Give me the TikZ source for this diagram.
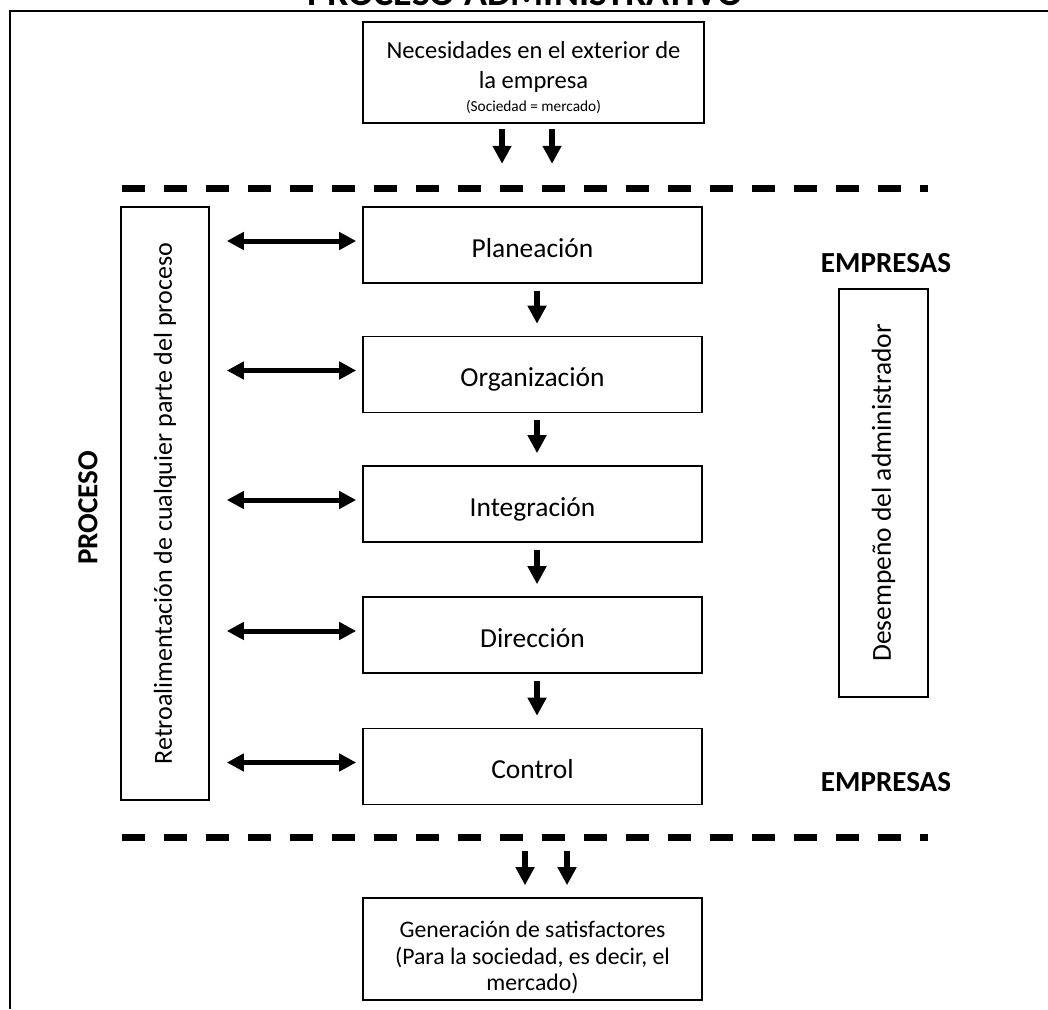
\documentclass[tikz,border=0pt]{standalone}
\usepackage{fontspec}
\setmainfont{Carlito}
\usetikzlibrary{arrows.meta}
\begin{document}
\begin{tikzpicture}[x=0.75pt,y=-0.75pt,
  frame/.style={line width=2pt},
  box/.style={draw, line width=1.2pt, inner sep=0pt, align=center},
  stepbox/.style={box, minimum width=254.25pt, minimum height=57pt,
    text height=18.5pt, text depth=0pt,
    font=\fontsize{20.6}{24}\selectfont},
  down/.style={line width=4.5pt, -{Triangle[length=13.5pt,width=13.5pt]}},
  both/.style={line width=3.75pt,
    {Triangle[length=12.75pt,width=12.75pt]}-{Triangle[length=12.75pt,width=12.75pt]}},
  dashline/.style={line width=5.25pt, dash pattern=on 17.6pt off 13.9pt},
  boldlabel/.style={font=\bfseries\fontsize{21.8}{26}\selectfont}
]
\useasboundingbox (0,0) rectangle (1048,1009);

% outer frame and title
\draw[frame] (1048,11) -- (10,11) -- (10,1009);
\node[font=\bfseries\fontsize{28.4}{32}\selectfont, anchor=base] (title) at (525,6) {PROCESO ADMINISTRATIVO};

% input box
\node[box, minimum width=255.75pt, minimum height=75.75pt,
  font=\fontsize{18.4}{22.5}\selectfont] (need) at (533.5,72.5)
  {\rule{0pt}{20.5pt}Necesidades en el exterior de\\
   la empresa\\[-5pt]
   {\fontsize{11.5}{14}\selectfont (Sociedad = mercado)}};

% dashed limits of the company
\draw[dashline] (122,189) -- (928,189);
\draw[dashline] (122,837) -- (928,837);

% process steps
\node[stepbox] (plan) at (532.5,245)   {Planeación};
\node[stepbox] (org)  at (532.5,374.5) {Organización};
\node[stepbox] (int)  at (532.5,504)   {Integración};
\node[stepbox] (dir)  at (532.5,635)   {Dirección};
\node[stepbox] (ctl)  at (532.5,766.5) {Control};

% feedback box
\node[box, rotate=90, minimum width=444.75pt, minimum height=66pt,
  font=\fontsize{19.5}{23}\selectfont] (fb) at (165,503.5)
  {Retroalimentación de cualquier parte del proceso};

% manager box
\node[box, rotate=90, minimum width=306pt, minimum height=66.75pt,
  font=\fontsize{20.6}{24}\selectfont] (mgr) at (883.5,493)
  {Desempeño del administrador};

% side labels
\node[boldlabel, rotate=90] (proc) at (88,508) {PROCESO};
\node[boldlabel] (emp1) at (886,263) {EMPRESAS};
\node[boldlabel] (emp2) at (886,782) {EMPRESAS};

% output box
\node[box, minimum width=254.25pt, minimum height=76.5pt,
  font=\fontsize{17.8}{20}\selectfont] (gen) at (532.5,949)
  {\rule{0pt}{25pt}Generación de satisfactores\\(Para la sociedad, es decir, el\\mercado)};

% inputs entering the company
\draw[down] ([xshift=-23.6pt,yshift=-3.75pt]need.south) -- ([xshift=-23.6pt,yshift=-30pt]need.south);
\draw[down] ([xshift=13.9pt,yshift=-3.75pt]need.south) -- ([xshift=13.9pt,yshift=-30pt]need.south);

% flow between steps
\foreach \a/\b in {plan/org, org/int, int/dir, dir/ctl}
  \draw[down] ([xshift=3.4pt,yshift=-5.25pt]\a.south) -- ([xshift=3.4pt,yshift=9pt]\b.north);

% feedback links
\foreach \s in {plan, org, int, dir, ctl}
  \draw[both] ([xshift=12.75pt,yshift=3pt]fb.south |- \s.west) -- ([xshift=-4.5pt,yshift=3pt]\s.west);

% outputs leaving the company
\draw[down] ([xshift=-5.6pt,yshift=34.5pt]gen.north) -- ([xshift=-5.6pt,yshift=9pt]gen.north);
\draw[down] ([xshift=25.9pt,yshift=34.5pt]gen.north) -- ([xshift=25.9pt,yshift=9pt]gen.north);
\end{tikzpicture}
\end{document}
